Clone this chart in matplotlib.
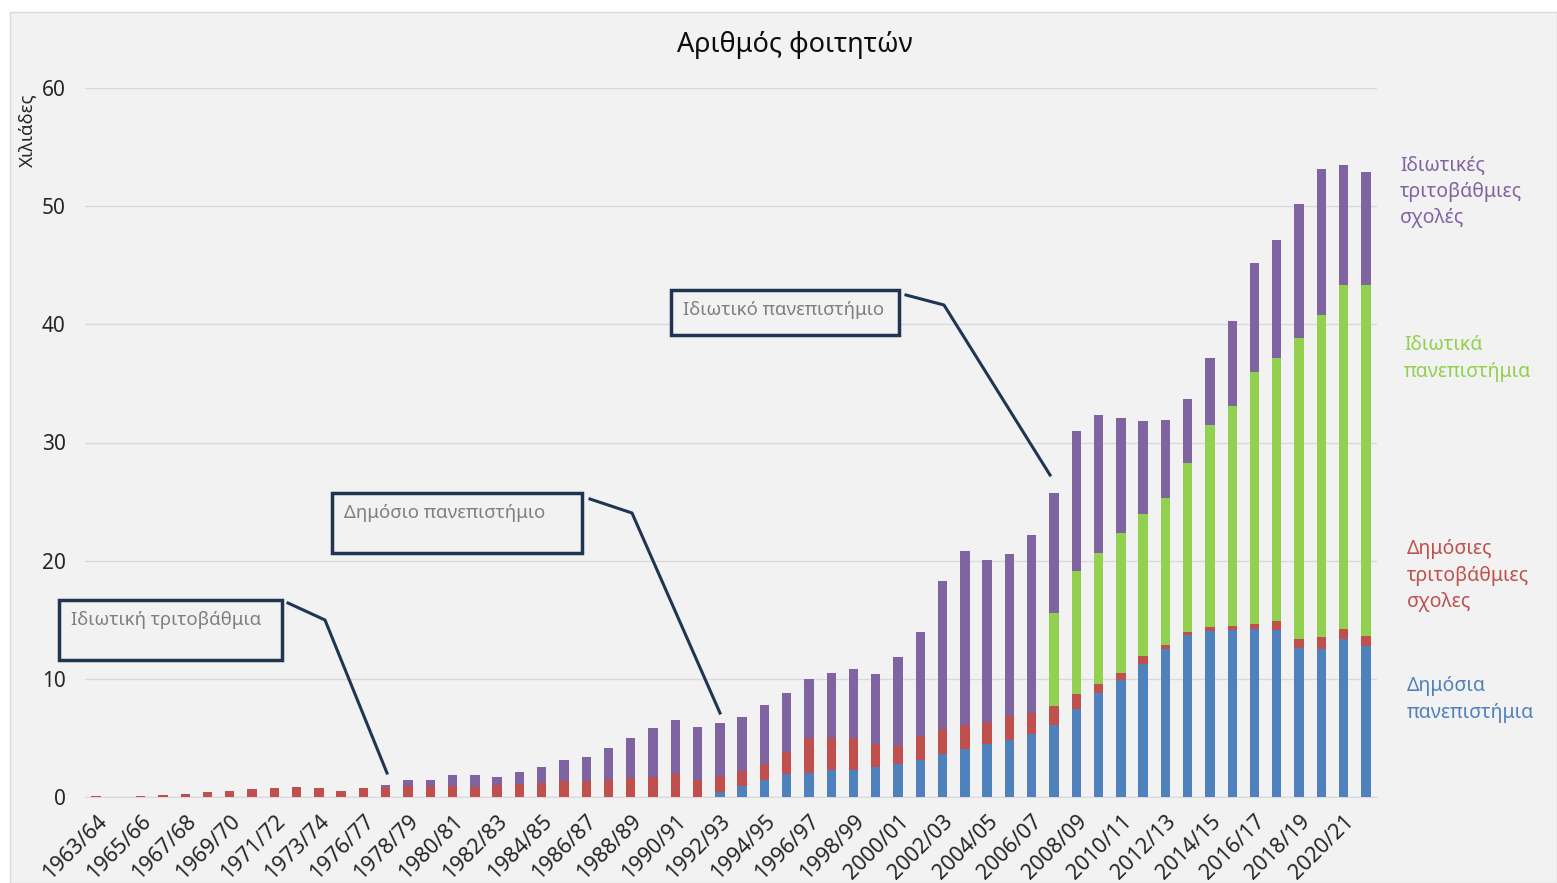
import matplotlib
matplotlib.use("Agg")
import matplotlib.pyplot as plt
import numpy as np
from matplotlib.patches import Rectangle
from matplotlib.lines import Line2D

plt.rcParams['font.family'] = ['Noto Sans', 'DejaVu Sans']

# Ακαδημαϊκά έτη (το 1974/75 λείπει από τα δεδομένα)
years = ['1963/64', '1964/65', '1965/66', '1966/67', '1967/68', '1968/69', '1969/70',
         '1970/71', '1971/72', '1972/73', '1973/74', '1975/76', '1976/77', '1977/78',
         '1978/79', '1979/80', '1980/81', '1981/82', '1982/83', '1983/84', '1984/85',
         '1985/86', '1986/87', '1987/88', '1988/89', '1989/90', '1990/91', '1991/92',
         '1992/93', '1993/94', '1994/95', '1995/96', '1996/97', '1997/98', '1998/99',
         '1999/00', '2000/01', '2001/02', '2002/03', '2003/04', '2004/05', '2005/06',
         '2006/07', '2007/08', '2008/09', '2009/10', '2010/11', '2011/12', '2012/13',
         '2013/14', '2014/15', '2015/16', '2016/17', '2017/18', '2018/19', '2019/20',
         '2020/21', '2021/22']

# χιλιάδες φοιτητές
public_uni = [0, 0, 0, 0, 0, 0, 0, 0, 0, 0, 0, 0, 0, 0,
              0, 0, 0, 0, 0, 0, 0, 0, 0, 0, 0, 0, 0, 0,
              0.4, 0.91, 1.44, 1.93, 2.07, 2.27, 2.32, 2.52, 2.8, 3.09, 3.6, 4.02,
              4.48, 4.79, 5.3, 6.06, 7.48, 8.81, 9.94, 11.27, 12.5, 13.69, 14.03,
              14.17, 14.23, 14.17, 12.59, 12.51, 13.41, 12.76]
public_tert = [0.1, 0, 0.1, 0.15, 0.28, 0.4, 0.5, 0.65, 0.74, 0.85, 0.8, 0.5, 0.74, 0.85,
               0.9, 0.9, 0.9, 0.83, 1.0, 1.08, 1.2, 1.39, 1.39, 1.47, 1.61, 1.73, 1.93, 1.47,
               1.38, 1.30, 1.34, 1.87, 2.89, 2.72, 2.67, 1.98, 1.5, 2.04, 2.18, 2.1,
               1.89, 2.04, 1.78, 1.64, 1.27, 0.74, 0.56, 0.66, 0.35, 0.28, 0.34,
               0.34, 0.39, 0.73, 0.82, 1.01, 0.84, 0.84]
private_uni = [0] * 43 + [7.85, 10.37, 11.1, 11.8, 12.04, 12.47, 14.28, 17.07,
                          18.56, 21.32, 22.28, 25.46, 27.27, 29.05, 29.7]
private_tert = [0, 0, 0, 0, 0, 0, 0, 0, 0, 0, 0, 0, 0, 0.18,
                0.52, 0.58, 0.95, 1.07, 0.7, 1.02, 1.3, 1.7, 1.98, 2.69, 3.4, 4.11, 4.61, 4.42,
                4.45, 4.53, 4.98, 5.04, 5.04, 5.49, 5.8, 5.92, 7.57, 8.81, 12.47, 14.73,
                13.71, 13.77, 15.12, 10.15, 11.88, 11.65, 9.8, 7.83, 6.62, 5.41, 5.71,
                7.24, 9.27, 9.95, 11.3, 12.34, 10.16, 9.63]

series = [
    (public_uni, '#4f81bd', 'Δημόσια\nπανεπιστήμια'),
    (public_tert, '#c0504d', 'Δημόσιες\nτριτοβάθμιες\nσχολες'),
    (private_uni, '#92d050', 'Ιδιωτικά\nπανεπιστήμια'),
    (private_tert, '#8064a2', 'Ιδιωτικές\nτριτοβάθμιες\nσχολές'),
]

W, H = 1557, 883
fig = plt.figure(figsize=(W / 100, H / 100), dpi=100)
fig.patch.set_facecolor('white')
fig.add_artist(Rectangle((10 / W, 0), (W - 10) / W, (H - 12) / H, transform=fig.transFigure,
                         facecolor='#f2f2f2', edgecolor='#d9d9d9', lw=1, zorder=-10))

ax = fig.add_axes([85 / W, 1 - 797 / H, (1377 - 85) / W, (797 - 88) / H])
ax.set_facecolor('none')

x = np.arange(len(years))
bottom = np.zeros(len(years))
for vals, col, lab in series:
    v = np.array(vals, dtype=float)
    ax.bar(x, v, width=0.42, bottom=bottom, color=col, edgecolor='none', zorder=3)
    bottom += v

ax.set_xlim(-0.5, len(years) - 0.5)
ax.set_ylim(0, 60)
ax.set_yticks(range(0, 61, 10))
ax.yaxis.grid(True, color='#d9d9d9', lw=1)
ax.set_axisbelow(True)
for s in ['top', 'right', 'left']:
    ax.spines[s].set_visible(False)
ax.spines['bottom'].set_color('#d9d9d9')
ax.tick_params(axis='y', length=0, pad=14, labelsize=15, labelcolor='#262626')
ax.tick_params(axis='x', length=0, pad=10, labelsize=15.5, labelcolor='#262626')
ax.set_xticks(x[::2])
ax.set_xticklabels(years[::2], rotation=45, ha='right', va='top', rotation_mode='anchor')

fig.text(795 / W, 1 - 45 / H, 'Αριθμός φοιτητών', ha='center', va='center',
         fontsize=19.5, color='#0d0d0d')
fig.text(27 / W, 1 - 130 / H, 'Χιλιάδες', rotation=90, ha='center', va='center',
         fontsize=13.5, color='#262626')

# ετικέτες σειρών στα δεξιά
label_pos = {'#8064a2': (1400, 155), '#92d050': (1404, 335),
             '#c0504d': (1407, 539), '#4f81bd': (1407, 676)}
for vals, col, lab in series:
    px, py = label_pos[col]
    fig.text(px / W, 1 - py / H, lab, ha='left', va='top', fontsize=14,
             color=col, linespacing=1.45)

# πλαίσια σχολίων με γραμμές
navy = '#1f3552'
callouts = [
    ('Ιδιωτική τριτοβάθμια', (59, 600, 282, 660), [(288, 603), (325, 620), (387, 773)]),
    ('Δημόσιο πανεπιστήμιο', (332, 493, 582, 553), [(590, 499), (632, 513), (720, 713)]),
    ('Ιδιωτικό πανεπιστήμιο', (671, 290, 899, 335), [(906, 295), (944, 305), (1050, 475)]),
]
for txt, (x0, y0, x1, y1), pts in callouts:
    fig.add_artist(Rectangle((x0 / W, 1 - y1 / H), (x1 - x0) / W, (y1 - y0) / H,
                             transform=fig.transFigure, facecolor='#f2f2f2',
                             edgecolor=navy, lw=2.5, zorder=5))
    fig.text((x0 + 12) / W, 1 - (y0 + 20) / H, txt, ha='left', va='center',
             fontsize=13.4, color='#7f7f7f', zorder=6)
    fig.add_artist(Line2D([p[0] / W for p in pts], [1 - p[1] / H for p in pts],
                          transform=fig.transFigure, color=navy, lw=2.2, zorder=5))

fig.savefig('out.png', dpi=100)
